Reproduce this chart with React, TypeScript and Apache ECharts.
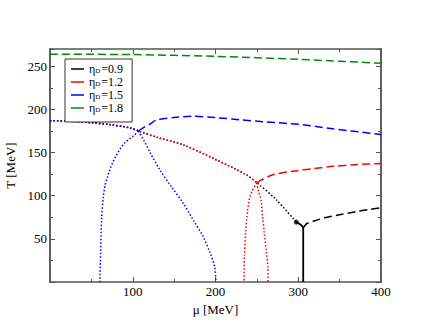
import React, { useEffect, useRef } from 'react';
import * as echarts from 'echarts';

// eta_D values (legend)
const etaValues = ['0.9', '1.2', '1.5', '1.8'];
const colors = ['#000000', '#ff0000', '#0000ff', '#008b00'];

// eta_D = 0.9
const black_dotted: number[][] = [[0, 187], [30, 186], [50, 184.5], [72, 182.5], [96, 178.7], [107, 175], [130, 167.5], [160, 159.3], [200, 142], [237, 124.4], [250, 115], [273.5, 95.3], [297.6, 69.4]];
const black_solid: number[][] = [[297.6, 69.4], [306, 62.4], [306, 0]];
const black_dashed: number[][] = [[306, 62.4], [310, 67.5], [320, 71], [335, 75], [350, 78], [370, 81.5], [385, 84], [400, 86]];
const black_point: number[][] = [[297.6, 69.4]];

// eta_D = 1.2
const red_dotted: number[][] = [[0, 187], [30, 186], [50, 184.5], [72, 182.5], [96, 178.7], [107, 175], [130, 167.5], [160, 159.3], [200, 142], [237, 124.4], [250, 115]];
const red_left: number[][] = [[250, 115], [244, 105], [240.6, 95], [238, 75], [236.4, 56.6], [235, 30], [234.4, 0]];
const red_right: number[][] = [[250, 115], [252, 105], [255, 95], [257, 75], [259, 56.6], [261.5, 35], [263.3, 17.8], [263.6, 0]];
const red_dashed: number[][] = [[250, 115], [255, 118], [270, 124.5], [293.5, 128.3], [320, 131.5], [342, 134], [370, 136], [400, 137.3]];

// eta_D = 1.5
const blue_dotted: number[][] = [[0, 187], [30, 186], [50, 184.5], [72, 182.5], [96, 178.7], [107, 175]];
const blue_left: number[][] = [[107, 175], [100.5, 169], [90.5, 161.3], [84.4, 153.5], [79.6, 145.7], [75.6, 138], [72.4, 130.2], [69.1, 120.6], [66.3, 110.8], [64.3, 97.3], [62.3, 72], [61.2, 33.7], [60.3, 0]];
const blue_right: number[][] = [[107, 175], [114, 163], [121, 150], [132.7, 130], [147, 110], [160.8, 91.5], [173, 72], [185, 52.7], [193, 35], [199, 17.8], [200.5, 0]];
const blue_dashed: number[][] = [[107, 175], [113, 179], [120, 182.5], [128.7, 187.6], [150, 190.5], [172.5, 192], [200, 190.5], [229, 188], [260, 185.5], [301.6, 182.6], [341.8, 177.5], [400, 171]];

// eta_D = 1.8
const green_dashed: number[][] = [[0, 264], [100, 263.5], [200, 261.5], [300, 258], [400, 253.5]];

const xTickLabels = ['100', '200', '300', '400'];
const yTickLabels = ['50', '100', '150', '200', '250'];

const FONT = 'Liberation Serif';
const DOT: number[] = [1.5, 2];
const DASH: number[] = [8, 4];
const AXC = '#555555';

export default function App() {
  const ref = useRef<HTMLDivElement>(null);
  useEffect(() => {
    if (!ref.current) return;
    const chart = echarts.init(ref.current, null, { renderer: 'svg' });
    const line = (name: string, data: number[][], color: string, type: any, width = 1.5) => ({
      type: 'line', name, data, showSymbol: false, symbol: 'none', smooth: 0.3,
      lineStyle: { color, type, width }, itemStyle: { color }, xAxisIndex: 0, yAxisIndex: 0,
    });
    const majorX = (pos: string, labels: boolean) => ({
      type: 'value', position: pos, min: 0, max: 400, interval: 100,
      axisLine: { show: true, onZero: false, lineStyle: { color: AXC, width: 1.5 } },
      axisTick: { show: true, inside: true, length: 5, lineStyle: { color: AXC, width: 1 } },
      minorTick: { show: true, splitNumber: 2, length: 3, lineStyle: { color: AXC, width: 1 } },
      splitLine: { show: false },
      axisLabel: labels ? {
        show: true, fontFamily: FONT, fontSize: 13, color: '#000', margin: 3,
        formatter: (v: number) => (xTickLabels.includes(String(v)) ? String(v) : ''),
      } : { show: false },
      name: labels ? 'μ [MeV]' : '', nameLocation: 'middle', nameGap: 15,
      nameTextStyle: { fontFamily: FONT, fontSize: 13, color: '#000' },
    });
    const yAx = (pos: string, interval: number, len: number, labels: boolean) => ({
      type: 'value', position: pos, min: 0, max: 270, interval,
      axisLine: { show: true, onZero: false, lineStyle: { color: AXC, width: 1.5 } },
      axisTick: { show: true, inside: true, length: len, lineStyle: { color: AXC, width: 1 } },
      splitLine: { show: false },
      axisLabel: labels ? {
        show: true, fontFamily: FONT, fontSize: 13, color: '#000', margin: 3,
        formatter: (v: number) => (yTickLabels.includes(String(v)) ? String(v) : ''),
      } : { show: false },
      name: labels ? 'T [MeV]' : '', nameLocation: 'middle', nameGap: 26,
      nameTextStyle: { fontFamily: FONT, fontSize: 13, color: '#000' },
    });
    chart.setOption({
      animation: false,
      grid: { left: 50, right: 49, top: 49, bottom: 50, containLabel: false, outerBoundsMode: 'none' },
      xAxis: [majorX('bottom', true), majorX('top', false)],
      yAxis: [yAx('left', 50, 5, true), yAx('right', 50, 5, false), yAx('left', 25, 3, false), yAx('right', 25, 3, false)],
      legend: {
        show: true, orient: 'vertical', left: 65, top: 59,
        data: etaValues.map((n) => ({ name: n, icon: 'rect' })),
        itemWidth: 13, itemHeight: 1.5, itemGap: 1,
        padding: [4, 9, 8, 6],
        borderColor: '#333', borderWidth: 1, backgroundColor: '#fff',
        selectedMode: false,
        textStyle: {
          fontFamily: FONT, fontSize: 12, color: '#000', lineHeight: 11, padding: [0, 0, 0, 0],
          rich: {
            base: { fontFamily: FONT, fontSize: 12, color: '#000', lineHeight: 11 },
            sub: { fontFamily: FONT, fontSize: 7, color: '#000', verticalAlign: 'bottom', lineHeight: 7, padding: [0, 1, 0, 0] },
          },
        },
        formatter: (n: string) => `{base|η}{sub|D}{base|=${n}}`,
      },
      series: [
        line('0.9', black_dotted, colors[0], DOT),
        line('0.9', black_solid, colors[0], 'solid', 1.8),
        line('0.9', black_dashed, colors[0], DASH),
        { type: 'scatter', name: '0.9', data: black_point, symbol: 'circle', symbolSize: 5, itemStyle: { color: colors[0] } },
        line('1.2', red_dotted, colors[1], DOT),
        line('1.2', red_left, colors[1], DOT),
        line('1.2', red_right, colors[1], DOT),
        line('1.2', red_dashed, colors[1], DASH),
        line('1.5', blue_dotted, colors[2], DOT),
        line('1.5', blue_left, colors[2], DOT),
        line('1.5', blue_right, colors[2], DOT),
        line('1.5', blue_dashed, colors[2], DASH),
        line('1.8', green_dashed, colors[3], DASH),
      ],
    });
    return () => chart.dispose();
  }, []);
  return <div ref={ref} style={{ width: 430, height: 332, position: 'absolute', left: 0, top: 0 }} />;
}
